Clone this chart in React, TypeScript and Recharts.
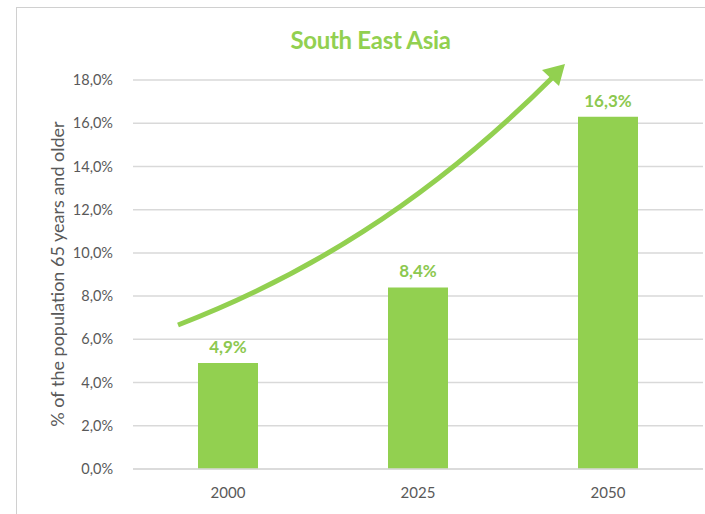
import { BarChart, Bar, XAxis, YAxis, CartesianGrid, LabelList } from "recharts";

const years = ["2000", "2025", "2050"];
const shareOlder = [4.9, 8.4, 16.3]; // % of population 65+
const yTicks = [0, 2, 4, 6, 8, 10, 12, 14, 16, 18];

const GREEN = "#92d050";
const GREY = "#595959";
const FONT = "Lato, 'Open Sans', sans-serif";

const data = years.map((y, i) => ({ year: y, value: shareOlder[i] }));

const pct = (v: number) => v.toFixed(1).replace(".", ",") + "%";

export default function App() {
  return (
    <div style={{ position: "absolute", left: 0, top: 0, width: 705, height: 514, background: "#fff", fontFamily: FONT }}>
      {/* chart frame */}
      <div
        style={{
          position: "absolute",
          left: 16,
          top: 7,
          width: 700,
          height: 520,
          borderLeft: "1px solid #d0d0d0",
          borderTop: "1px solid #d0d0d0",
        }}
      />
      <div
        style={{
          position: "absolute",
          left: 0,
          top: 25,
          width: 741,
          textAlign: "center",
          color: GREEN,
          fontWeight: 700,
          fontSize: 24,
          letterSpacing: -0.3,
        }}
      >
        South East Asia
      </div>
      <div style={{ position: "absolute", left: 0, top: 0 }}>
        <BarChart width={705} height={514} data={data} margin={{ top: 80, right: 2, bottom: 15, left: 0 }}>
          <CartesianGrid vertical={false} stroke="#d9d9d9" strokeWidth={1.5} />
          <XAxis
            dataKey="year"
            height={30}
            axisLine={{ stroke: "#d9d9d9", strokeWidth: 1.5 }}
            tickLine={false}
            tick={{ fill: GREY, fontSize: 15, fontFamily: FONT }}
            tickMargin={12}
          />
          <YAxis
            width={133}
            domain={[0, 18]}
            ticks={yTicks}
            tickFormatter={pct}
            axisLine={false}
            tickLine={false}
            tick={{ fill: GREY, fontSize: 14.5, fontFamily: FONT }}
            tickMargin={14}
          />
          <Bar dataKey="value" fill={GREEN} barSize={60} isAnimationActive={false}>
            <LabelList
              dataKey="value"
              position="top"
              offset={10}
              formatter={(v: any) => pct(Number(v))}
              style={{ fill: "#8cc84f", fontWeight: 700, fontSize: 17, fontFamily: FONT }}
            />
          </Bar>
        </BarChart>
      </div>
      {/* annotation overlay: axis title and growth arrow */}
      <svg width={705} height={514} style={{ position: "absolute", left: 0, top: 0, pointerEvents: "none" }}>
        <text
          x={57}
          y={274}
          transform="rotate(-90 57 274)"
          textAnchor="middle"
          dominantBaseline="central"
          fill={GREY}
          fontSize={18}
          fontFamily={FONT}
        >
          % of the population 65 years and older
        </text>
        <path
          d="M178 325 C 300 278, 425 205, 553 77"
          fill="none"
          stroke={GREEN}
          strokeWidth={5}
        />
        <polygon points="565,64 559,86 542,70" fill={GREEN} />
      </svg>
    </div>
  );
}
